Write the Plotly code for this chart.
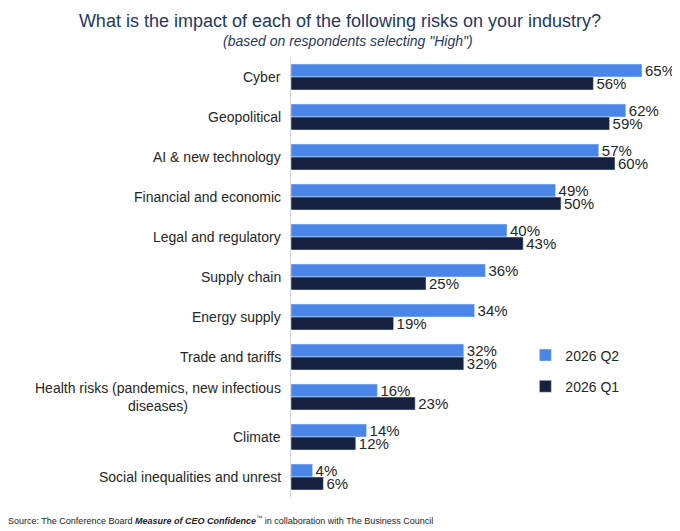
import plotly.graph_objects as go

categories = [
    "Cyber",
    "Geopolitical",
    "AI & new technology",
    "Financial and economic",
    "Legal and regulatory",
    "Supply chain",
    "Energy supply",
    "Trade and tariffs",
    "Health risks (pandemics, new infectious<br>diseases)",
    "Climate",
    "Social inequalities and unrest",
]
q2_2026 = [65, 62, 57, 49, 40, 36, 34, 32, 16, 14, 4]
q1_2026 = [56, 59, 60, 50, 43, 25, 19, 32, 23, 12, 6]

LIGHT = "#4a86e8"
DARK = "#14223f"
NAVY = "#1f3864"
TXT = "#262626"

fig = go.Figure()
for name, vals, col, grp in (("2026 Q2", q2_2026, LIGHT, "a"),
                             ("2026 Q1", q1_2026, DARK, "b")):
    fig.add_trace(go.Bar(
        name=name,
        y=categories,
        x=vals,
        orientation="h",
        marker_color=col,
        text=[f"{v}%" for v in vals],
        textposition="outside",
        textfont=dict(size=15, color=TXT),
        constraintext="none",
        cliponaxis=False,
        legendgroup=grp,
        hovertemplate="%{y}: %{x}%<extra>" + name + "</extra>",
    ))

# category labels as annotations so the wrapped one stays centred
for c in categories:
    fig.add_annotation(
        x=0, xref="paper", y=c, yref="y",
        text=c, showarrow=False,
        xanchor="right", align="center", xshift=-8,
        font=dict(size=14, color=TXT),
    )

# subtitle
fig.add_annotation(
    x=0.5, xref="paper", y=1 + 16 / 440, yref="paper",
    text="<i>(based on respondents selecting \"High\")</i>",
    showarrow=False, xanchor="center", yanchor="middle",
    xshift=-(283 - 19) / 2 + 0,
    font=dict(size=14, color=NAVY),
)

fig.add_annotation(
    x=-0.755, xref="paper", y=-0.052, yref="paper",
    text=("Source: The Conference Board <b><i>Measure of CEO Confidence</i></b>"
          "<sup>™</sup> in collaboration with The Business Council"),
    showarrow=False, xanchor="left", yanchor="middle",
    font=dict(size=9, color="#222222"),
)

fig.update_layout(
    width=680,
    height=531,
    margin=dict(l=283, r=19, t=49, b=42),
    paper_bgcolor="white",
    plot_bgcolor="white",
    font=dict(family="Liberation Sans, Arial, sans-serif", color=TXT),
    title=dict(
        text="What is the impact of each of the following risks on your industry?",
        x=(340 - 8) / 680, xanchor="center", xref="container",
        y=1 - 13 / 531, yanchor="middle", yref="container",
        font=dict(size=18, color=NAVY),
    ),
    barmode="group",
    bargap=0.35,
    bargroupgap=0,
    xaxis=dict(range=[0, 70], visible=False, fixedrange=True),
    yaxis=dict(
        autorange="reversed",
        showticklabels=False,
        showline=True, linecolor="#d9d9d9", linewidth=1,
        ticks="", showgrid=False, zeroline=False,
    ),
    legend=dict(
        x=0.62, y=0.358, xanchor="left", yanchor="top",
        font=dict(size=14, color=TXT),
        tracegroupgap=10,
        itemwidth=30,
        bgcolor="rgba(0,0,0,0)",
    ),
    showlegend=True,
)

fig.write_html("out.html")
